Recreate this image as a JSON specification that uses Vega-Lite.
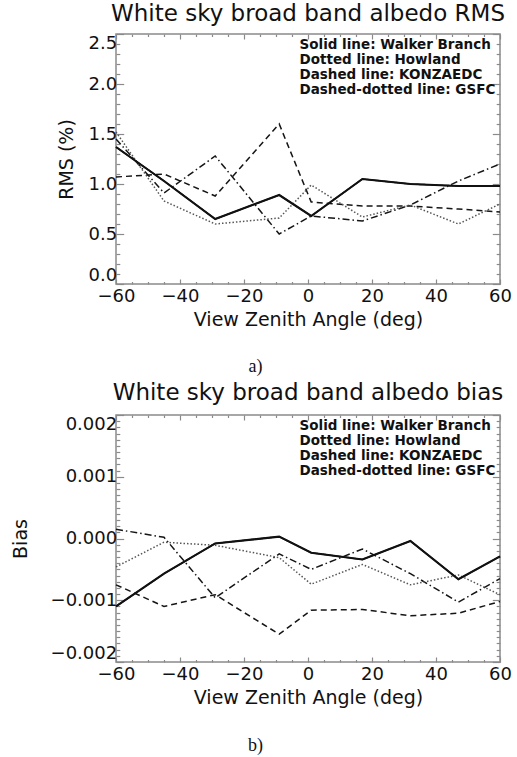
{
  "$schema": "https://vega.github.io/schema/vega-lite/v6.json",
  "padding": {"left": 10, "top": 2, "right": 0, "bottom": 0},
  "background": "white",
  "spacing": 5,
  "config": {
    "font": "DejaVu Sans",
    "view": {"stroke": "#8a8a8a", "strokeWidth": 1.5},
    "axis": {"domain": false, "grid": false, "ticks": true, "tickColor": "#8a8a8a", "tickWidth": 1.2, "labelFont": "DejaVu Sans", "labelFontSize": 18, "labelColor": "#111", "titleFont": "DejaVu Sans", "titleFontSize": 19, "titleFontWeight": "normal", "titleColor": "#111", "labelOverlap": false},
    "title": {"font": "DejaVu Sans", "fontSize": 23, "fontWeight": "normal", "color": "#111", "anchor": "middle", "offset": 7},
    "legend": {"orient": "top-right", "title": null, "offset": 4, "padding": 0, "labelFont": "DejaVu Sans", "labelFontSize": 13.5, "labelFontWeight": "bold", "labelColor": "#111", "symbolSize": 0, "symbolStrokeWidth": 0, "symbolOpacity": 0, "labelOffset": 0, "rowPadding": 0, "labelLimit": 0}
  },
  "datasets": {
    "rms": [
      {"angle": -60, "site": "Walker Branch", "value": 1.37},
      {"angle": -45, "site": "Walker Branch", "value": 1.03},
      {"angle": -29, "site": "Walker Branch", "value": 0.65},
      {"angle": -9, "site": "Walker Branch", "value": 0.89},
      {"angle": 1, "site": "Walker Branch", "value": 0.68},
      {"angle": 17, "site": "Walker Branch", "value": 1.05},
      {"angle": 32, "site": "Walker Branch", "value": 1.00},
      {"angle": 47, "site": "Walker Branch", "value": 0.98},
      {"angle": 60, "site": "Walker Branch", "value": 0.98},
      {"angle": -60, "site": "Howland", "value": 1.52},
      {"angle": -45, "site": "Howland", "value": 0.83},
      {"angle": -29, "site": "Howland", "value": 0.60},
      {"angle": -9, "site": "Howland", "value": 0.66},
      {"angle": 1, "site": "Howland", "value": 0.99},
      {"angle": 17, "site": "Howland", "value": 0.67},
      {"angle": 32, "site": "Howland", "value": 0.79},
      {"angle": 47, "site": "Howland", "value": 0.60},
      {"angle": 60, "site": "Howland", "value": 0.80},
      {"angle": -60, "site": "KONZAEDC", "value": 1.07},
      {"angle": -45, "site": "KONZAEDC", "value": 1.10},
      {"angle": -29, "site": "KONZAEDC", "value": 0.88},
      {"angle": -9, "site": "KONZAEDC", "value": 1.60},
      {"angle": 1, "site": "KONZAEDC", "value": 0.82},
      {"angle": 17, "site": "KONZAEDC", "value": 0.78},
      {"angle": 32, "site": "KONZAEDC", "value": 0.78},
      {"angle": 47, "site": "KONZAEDC", "value": 0.75},
      {"angle": 60, "site": "KONZAEDC", "value": 0.72},
      {"angle": -60, "site": "GSFC", "value": 1.45},
      {"angle": -45, "site": "GSFC", "value": 0.91},
      {"angle": -29, "site": "GSFC", "value": 1.28},
      {"angle": -9, "site": "GSFC", "value": 0.50},
      {"angle": 1, "site": "GSFC", "value": 0.68},
      {"angle": 17, "site": "GSFC", "value": 0.63},
      {"angle": 32, "site": "GSFC", "value": 0.79},
      {"angle": 47, "site": "GSFC", "value": 1.03},
      {"angle": 60, "site": "GSFC", "value": 1.20}
    ],
    "bias": [
      {"angle": -60, "site": "Walker Branch", "value": -0.00110},
      {"angle": -45, "site": "Walker Branch", "value": -0.00057},
      {"angle": -29, "site": "Walker Branch", "value": -0.00008},
      {"angle": -9, "site": "Walker Branch", "value": 0.00003},
      {"angle": 1, "site": "Walker Branch", "value": -0.00023},
      {"angle": 17, "site": "Walker Branch", "value": -0.00034},
      {"angle": 32, "site": "Walker Branch", "value": -0.00004},
      {"angle": 47, "site": "Walker Branch", "value": -0.00066},
      {"angle": 60, "site": "Walker Branch", "value": -0.00029},
      {"angle": -60, "site": "Howland", "value": -0.00046},
      {"angle": -45, "site": "Howland", "value": -0.00006},
      {"angle": -29, "site": "Howland", "value": -0.00011},
      {"angle": -9, "site": "Howland", "value": -0.00031},
      {"angle": 1, "site": "Howland", "value": -0.00074},
      {"angle": 17, "site": "Howland", "value": -0.00042},
      {"angle": 32, "site": "Howland", "value": -0.00075},
      {"angle": 47, "site": "Howland", "value": -0.00059},
      {"angle": 60, "site": "Howland", "value": -0.00091},
      {"angle": -60, "site": "KONZAEDC", "value": -0.00075},
      {"angle": -45, "site": "KONZAEDC", "value": -0.00110},
      {"angle": -29, "site": "KONZAEDC", "value": -0.00091},
      {"angle": -9, "site": "KONZAEDC", "value": -0.00155},
      {"angle": 1, "site": "KONZAEDC", "value": -0.00116},
      {"angle": 17, "site": "KONZAEDC", "value": -0.00115},
      {"angle": 32, "site": "KONZAEDC", "value": -0.00125},
      {"angle": 47, "site": "KONZAEDC", "value": -0.00121},
      {"angle": 60, "site": "KONZAEDC", "value": -0.00102},
      {"angle": -60, "site": "GSFC", "value": 0.00015},
      {"angle": -45, "site": "GSFC", "value": 0.00002},
      {"angle": -29, "site": "GSFC", "value": -0.00096},
      {"angle": -9, "site": "GSFC", "value": -0.00025},
      {"angle": 1, "site": "GSFC", "value": -0.00050},
      {"angle": 17, "site": "GSFC", "value": -0.00017},
      {"angle": 32, "site": "GSFC", "value": -0.00057},
      {"angle": 47, "site": "GSFC", "value": -0.00103},
      {"angle": 60, "site": "GSFC", "value": -0.00065}
    ]
  },
  "resolve": {"scale": {"strokeDash": "independent"}, "legend": {"strokeDash": "independent"}},
  "vconcat": [
    {
      "width": 384,
      "height": 250,
      "title": {"text": "White sky broad band albedo RMS"},
      "data": {"name": "rms"},
      "resolve": {"axis": {"x": "independent", "y": "independent"}},
      "layer": [
        {
          "transform": [{"filter": "datum.site != 'Howland'"}],
          "mark": {"type": "line", "strokeCap": "butt", "strokeJoin": "miter", "color": "#151515", "strokeWidth": 1.5},
          "encoding": {
            "x": {"field": "angle", "type": "quantitative", "scale": {"domain": [-60, 60], "nice": false},
              "axis": {"orient": "bottom", "values": [-60,-55,-50,-45,-40,-35,-30,-25,-20,-15,-10,-5,0,5,10,15,20,25,30,35,40,45,50,55,60],
                "labelExpr": "datum.value % 20 == 0 ? datum.label : ''",
                "tickSize": {"condition": {"test": "datum.value % 20 == 0", "value": -5}, "value": -2.5},
                "labelPadding": 8, "labelFlush": false, "title": "View Zenith Angle (deg)", "titlePadding": 3}},
            "y": {"field": "value", "type": "quantitative", "scale": {"domain": [0, 2.5], "nice": false},
              "axis": {"orient": "left", "values": [0,0.1,0.2,0.3,0.4,0.5,0.6,0.7,0.8,0.9,1,1.1,1.2,1.3,1.4,1.5,1.6,1.7,1.8,1.9,2,2.1,2.2,2.3,2.4,2.5],
                "format": ".1f",
                "labelExpr": "abs(datum.value*2 - round(datum.value*2)) < 1e-6 ? datum.label : ''",
                "tickSize": {"condition": {"test": "abs(datum.value*2 - round(datum.value*2)) < 1e-6", "value": -7.7}, "value": -3.8},
                "labelPadding": 7, "labelFlush": true, "title": "RMS (%)", "titlePadding": 12}},
            "strokeDash": {"field": "site", "type": "nominal",
              "scale": {"domain": ["Walker Branch", "Howland", "KONZAEDC", "GSFC"], "range": [[1, 0], [1.5, 2], [6, 4], [7, 3, 1.5, 3]]},
              "legend": {"labelExpr": "(datum.label == 'Walker Branch' ? 'Solid line: ' : datum.label == 'Howland' ? 'Dotted line: ' : datum.label == 'KONZAEDC' ? 'Dashed line: ' : 'Dashed-dotted line: ') + datum.label"}}
          }
        },
        {
          "transform": [{"filter": "datum.site == 'Howland'"}],
          "mark": {"type": "line", "strokeCap": "butt", "strokeJoin": "miter", "color": "#555555", "strokeWidth": 1.5, "strokeDash": [1.5, 2]},
          "encoding": {
            "x": {"field": "angle", "type": "quantitative", "axis": null},
            "y": {"field": "value", "type": "quantitative", "axis": null}
          }
        },
        {
          "transform": [{"filter": "datum.site == 'Walker Branch'"}],
          "mark": {"type": "line", "strokeCap": "butt", "strokeJoin": "miter", "color": "#111111", "strokeWidth": 2.1},
          "encoding": {
            "x": {"field": "angle", "type": "quantitative", "axis": null},
            "y": {"field": "value", "type": "quantitative", "axis": null}
          }
        },
        {
          "mark": {"type": "point", "opacity": 0},
          "encoding": {
            "x": {"field": "angle", "type": "quantitative",
              "axis": {"orient": "top", "values": [-60,-55,-50,-45,-40,-35,-30,-25,-20,-15,-10,-5,0,5,10,15,20,25,30,35,40,45,50,55,60], "labels": false, "title": null,
                "tickSize": {"condition": {"test": "datum.value % 20 == 0", "value": -5}, "value": -2.5}}},
            "y": {"field": "value", "type": "quantitative",
              "axis": {"orient": "right", "values": [0,0.1,0.2,0.3,0.4,0.5,0.6,0.7,0.8,0.9,1,1.1,1.2,1.3,1.4,1.5,1.6,1.7,1.8,1.9,2,2.1,2.2,2.3,2.4,2.5], "labels": false, "title": null,
                "tickSize": {"condition": {"test": "abs(datum.value*2 - round(datum.value*2)) < 1e-6", "value": -7.7}, "value": -3.8}}}
          }
        },
        {
          "mark": {"type": "point", "opacity": 0},
          "encoding": {
            "x": {"field": "angle", "type": "quantitative",
              "axis": {"orient": "bottom", "ticks": false, "labels": false, "domain": false, "title": "a)", "titleFont": "Liberation Serif", "titleFontSize": 18, "titleX": 139, "titlePadding": 73}}
          }
        }
      ]
    },
    {
      "width": 384,
      "height": 247,
      "title": {"text": "White sky broad band albedo bias"},
      "data": {"name": "bias"},
      "resolve": {"axis": {"x": "independent", "y": "independent"}},
      "layer": [
        {
          "transform": [{"filter": "datum.site != 'Howland'"}],
          "mark": {"type": "line", "strokeCap": "butt", "strokeJoin": "miter", "color": "#151515", "strokeWidth": 1.5},
          "encoding": {
            "x": {"field": "angle", "type": "quantitative", "scale": {"domain": [-60, 60], "nice": false},
              "axis": {"orient": "bottom", "values": [-60,-55,-50,-45,-40,-35,-30,-25,-20,-15,-10,-5,0,5,10,15,20,25,30,35,40,45,50,55,60],
                "labelExpr": "datum.value % 20 == 0 ? datum.label : ''",
                "tickSize": {"condition": {"test": "datum.value % 20 == 0", "value": -5}, "value": -2.5},
                "labelPadding": 8, "labelFlush": false, "title": "View Zenith Angle (deg)", "titlePadding": 3}},
            "y": {"field": "value", "type": "quantitative", "scale": {"domain": [-0.002, 0.002], "nice": false},
              "axis": {"orient": "left", "values": [-0.002,-0.0019,-0.0018,-0.0017,-0.0016,-0.0015,-0.0014,-0.0013,-0.0012,-0.0011,-0.001,-0.0009,-0.0008,-0.0007,-0.0006,-0.0005,-0.0004,-0.0003,-0.0002,-0.0001,0,0.0001,0.0002,0.0003,0.0004,0.0005,0.0006,0.0007,0.0008,0.0009,0.001,0.0011,0.0012,0.0013,0.0014,0.0015,0.0016,0.0017,0.0018,0.0019,0.002],
                "format": ".3f",
                "labelExpr": "abs(datum.value*1000 - round(datum.value*1000)) < 1e-6 ? datum.label : ''",
                "tickSize": {"condition": {"test": "abs(datum.value*1000 - round(datum.value*1000)) < 1e-6", "value": -7.7}, "value": -3.8},
                "labelPadding": 7, "labelFlush": true, "title": "Bias", "titlePadding": 20}},
            "strokeDash": {"field": "site", "type": "nominal",
              "scale": {"domain": ["Walker Branch", "Howland", "KONZAEDC", "GSFC"], "range": [[1, 0], [1.5, 2], [6, 4], [7, 3, 1.5, 3]]},
              "legend": {"labelExpr": "(datum.label == 'Walker Branch' ? 'Solid line: ' : datum.label == 'Howland' ? 'Dotted line: ' : datum.label == 'KONZAEDC' ? 'Dashed line: ' : 'Dashed-dotted line: ') + datum.label"}}
          }
        },
        {
          "transform": [{"filter": "datum.site == 'Howland'"}],
          "mark": {"type": "line", "strokeCap": "butt", "strokeJoin": "miter", "color": "#555555", "strokeWidth": 1.5, "strokeDash": [1.5, 2]},
          "encoding": {
            "x": {"field": "angle", "type": "quantitative", "axis": null},
            "y": {"field": "value", "type": "quantitative", "axis": null}
          }
        },
        {
          "transform": [{"filter": "datum.site == 'Walker Branch'"}],
          "mark": {"type": "line", "strokeCap": "butt", "strokeJoin": "miter", "color": "#111111", "strokeWidth": 2.1},
          "encoding": {
            "x": {"field": "angle", "type": "quantitative", "axis": null},
            "y": {"field": "value", "type": "quantitative", "axis": null}
          }
        },
        {
          "mark": {"type": "point", "opacity": 0},
          "encoding": {
            "x": {"field": "angle", "type": "quantitative",
              "axis": {"orient": "top", "values": [-60,-55,-50,-45,-40,-35,-30,-25,-20,-15,-10,-5,0,5,10,15,20,25,30,35,40,45,50,55,60], "labels": false, "title": null,
                "tickSize": {"condition": {"test": "datum.value % 20 == 0", "value": -5}, "value": -2.5}}},
            "y": {"field": "value", "type": "quantitative",
              "axis": {"orient": "right", "values": [-0.002,-0.0019,-0.0018,-0.0017,-0.0016,-0.0015,-0.0014,-0.0013,-0.0012,-0.0011,-0.001,-0.0009,-0.0008,-0.0007,-0.0006,-0.0005,-0.0004,-0.0003,-0.0002,-0.0001,0,0.0001,0.0002,0.0003,0.0004,0.0005,0.0006,0.0007,0.0008,0.0009,0.001,0.0011,0.0012,0.0013,0.0014,0.0015,0.0016,0.0017,0.0018,0.0019,0.002], "labels": false, "title": null,
                "tickSize": {"condition": {"test": "abs(datum.value*1000 - round(datum.value*1000)) < 1e-6", "value": -7.7}, "value": -3.8}}}
          }
        },
        {
          "mark": {"type": "point", "opacity": 0},
          "encoding": {
            "x": {"field": "angle", "type": "quantitative",
              "axis": {"orient": "bottom", "ticks": false, "labels": false, "domain": false, "title": "b)", "titleFont": "Liberation Serif", "titleFontSize": 18, "titleX": 139, "titlePadding": 74}}
          }
        }
      ]
    }
  ]
}
